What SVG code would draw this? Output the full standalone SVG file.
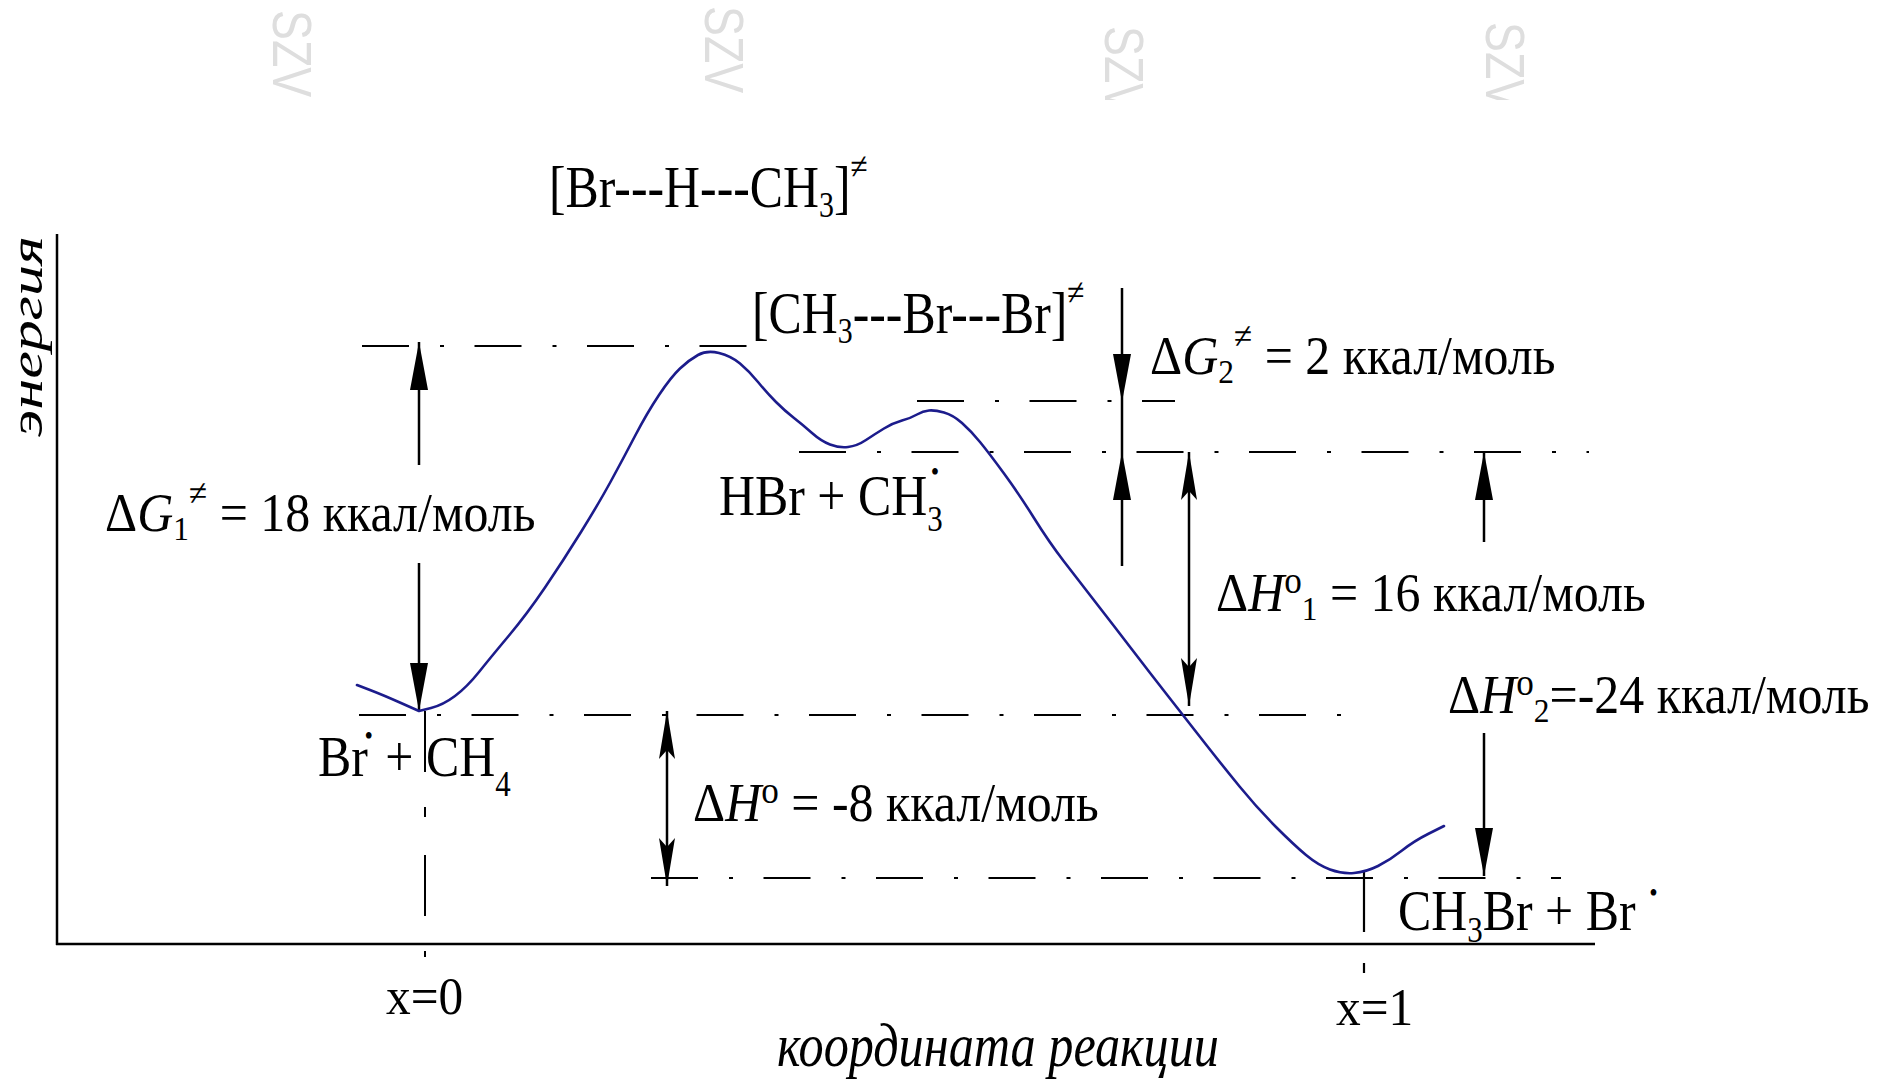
<svg xmlns="http://www.w3.org/2000/svg" width="1879" height="1083" viewBox="0 0 1879 1083">
<defs>
<style>
.t{font-family:"Liberation Serif","Times New Roman",serif;fill:#000}
.i{font-style:italic}
.dd{fill:none;stroke:#000;stroke-width:2;stroke-dasharray:47 31 4 30.5}
.ar{stroke:#000;stroke-width:2.5;fill:none}
.ax{stroke:#000;stroke-width:2.5;fill:none}
.curve{fill:none;stroke:#1c1c8c;stroke-width:2.6;stroke-linejoin:round;stroke-linecap:round}
.wm{font-family:"Liberation Sans",Arial,sans-serif;font-size:56px;fill:#dedede}
</style>
<marker id="ah" viewBox="0 0 48 18" refX="48" refY="9" markerWidth="48" markerHeight="18" markerUnits="userSpaceOnUse" orient="auto-start-reverse"><path d="M0,0 L48,9 L0,18 Z" fill="#000"/></marker>
<marker id="ahn" viewBox="0 0 48 18" refX="48" refY="9" markerWidth="48" markerHeight="18" markerUnits="userSpaceOnUse" orient="auto-start-reverse"><path d="M0,1 L48,9 L0,17 L9,9 Z" fill="#000"/></marker>
<clipPath id="wmclip"><rect x="0" y="0" width="1879" height="100"/></clipPath>
</defs>
<rect width="1879" height="1083" fill="#fff"/>

<g id="watermark" clip-path="url(#wmclip)">
<text class="wm" transform="translate(273,10) rotate(90) scale(0.8,1)">SZV</text>
<text class="wm" transform="translate(705,6) rotate(90) scale(0.8,1)">SZV</text>
<text class="wm" transform="translate(1105,26) rotate(90) scale(0.8,1)">SZV</text>
<text class="wm" transform="translate(1486,22) rotate(90) scale(0.8,1)">SZV</text>
</g>

<g id="axes">
<line class="ax" x1="57" y1="234" x2="57" y2="945"/>
<line class="ax" x1="56" y1="944" x2="1595" y2="944" stroke-width="3"/>
</g>

<g id="connectors">
<line class="dd" x1="362" y1="346" x2="748" y2="346"/>
<line class="dd" x1="917" y1="401" x2="1175" y2="401"/>
<line class="dd" x1="799" y1="452" x2="1589" y2="452"/>
<line class="dd" x1="359" y1="715" x2="1348" y2="715"/>
<line class="dd" x1="651" y1="878" x2="1561" y2="878"/>
<line x1="425" y1="711" x2="425" y2="957" stroke="#000" stroke-width="2" stroke-dasharray="61 35 10 38"/>
<line x1="1364" y1="872" x2="1364" y2="973" stroke="#000" stroke-width="2.2" stroke-dasharray="60 31 10"/>

<line class="ar" x1="419" y1="465" x2="419" y2="342" marker-end="url(#ah)"/>
<line class="ar" x1="419" y1="563" x2="419" y2="711" marker-end="url(#ah)"/>
<line class="ar" x1="1122" y1="288" x2="1122" y2="402" marker-end="url(#ah)"/>
<line class="ar" x1="1122" y1="402" x2="1122" y2="452"/>
<line class="ar" x1="1122" y1="566" x2="1122" y2="452" marker-end="url(#ah)"/>
<line class="ar" x1="1189" y1="452" x2="1189" y2="706" marker-start="url(#ahn)" marker-end="url(#ahn)"/>
<line class="ar" x1="1484" y1="542" x2="1484" y2="452" marker-end="url(#ah)"/>
<line class="ar" x1="1484" y1="733" x2="1484" y2="876" marker-end="url(#ah)"/>
<line class="ar" x1="667" y1="711" x2="667" y2="886" marker-start="url(#ahn)" marker-end="url(#ahn)"/>
</g>

<g id="curve">
<path class="curve" d="M357,685 L370,690 Q383,695 401,703 L419,711 L431,708 Q443,705 455,696 Q467,687 479,672 Q491,657 509,635.5 Q527,614 545,587.5 Q563,561 581,532 Q599,503 611,481 Q623,459 635,436 Q647,413 659,395 Q671,377 680,368.5 Q689,360 698,355 Q707,350 719,353 Q731,356 740,363.5 Q749,371 758,382 Q767,393 776,402 Q785,411 794,418 Q803,425 812,433 Q821,441 830,444.5 Q839,448 848,447 Q857,446 866,440 Q875,434 884,428.5 Q893,423 902,420.5 Q911,418 917,414.5 Q923,411 929,410.5 Q935,410 944,412.5 Q953,415 962,423 Q971,431 980,442 Q989,453 1004,473.5 Q1019,494 1034,518 Q1049,542 1064,561.5 Q1079,581 1096.5,603.5 Q1114,626 1132,649.5 Q1150,673 1168,696 Q1186,719 1204,742 Q1222,765 1240,787 Q1258,809 1276,827 Q1294,845 1306,855 Q1318,865 1330,869.5 Q1342,874 1354,873 Q1366,872 1378,866 Q1390,860 1402,850.5 Q1414,841 1429,833.5 L1444,826"/>
</g>

<g id="ts1">
<text class="t" font-size="60" transform="translate(549,207) scale(0.83,1)">[Br---H---CH<tspan font-size="36" dy="10">3</tspan><tspan dy="-10">]</tspan><tspan font-size="38" dy="-28">≠</tspan></text>
</g>
<g id="ts2">
<text class="t" font-size="60" transform="translate(752,333) scale(0.83,1)">[CH<tspan font-size="36" dy="10">3</tspan><tspan dy="-10">---Br---Br]</tspan><tspan font-size="38" dy="-28">≠</tspan></text>
</g>
<g id="intermediate">
<text class="t" font-size="58" transform="translate(719,515) scale(0.86,1)">HBr + CH<tspan font-size="36" dy="16">3</tspan><tspan font-size="28" dx="-14" dy="-50">•</tspan></text>
</g>
<g id="reactants">
<text class="t" font-size="58" transform="translate(318,776) scale(0.86,1)">Br<tspan font-size="28" dx="-4" dy="-31">•</tspan><tspan dy="31"> + CH</tspan><tspan font-size="36" dy="20">4</tspan></text>
</g>
<g id="products">
<text class="t" font-size="58" transform="translate(1398,930) scale(0.86,1)">CH<tspan font-size="36" dy="12">3</tspan><tspan dy="-12">Br + Br</tspan><tspan font-size="28" dx="16" dy="-28">•</tspan></text>
</g>

<g id="dG1">
<text class="t" font-size="54" transform="translate(105,531) scale(0.925,1)">Δ<tspan class="i">G</tspan><tspan font-size="34" dy="9">1</tspan><tspan font-size="36" dy="-35">≠</tspan><tspan dy="26"> = 18 ккал/моль</tspan></text>
</g>
<g id="dG2">
<text class="t" font-size="54" transform="translate(1150,374) scale(0.925,1)">Δ<tspan class="i">G</tspan><tspan font-size="34" dy="9">2</tspan><tspan font-size="36" dy="-35">≠</tspan><tspan dy="26"> = 2 ккал/моль</tspan></text>
</g>
<g id="dH1">
<text class="t" font-size="54" transform="translate(1216,611) scale(0.925,1)">Δ<tspan class="i">H</tspan><tspan font-size="38" dy="-18">o</tspan><tspan font-size="34" dy="27">1</tspan><tspan dy="-9"> = 16 ккал/моль</tspan></text>
</g>
<g id="dH2">
<text class="t" font-size="54" transform="translate(1448,713) scale(0.925,1)">Δ<tspan class="i">H</tspan><tspan font-size="38" dy="-18">o</tspan><tspan font-size="34" dy="27">2</tspan><tspan dy="-9">=-24 ккал/моль</tspan></text>
</g>
<g id="dH">
<text class="t" font-size="54" transform="translate(693,821) scale(0.925,1)">Δ<tspan class="i">H</tspan><tspan font-size="38" dy="-18">o</tspan><tspan dy="18"> = -8 ккал/моль</tspan></text>
</g>

<g id="x0">
<text class="t" font-size="52" transform="translate(386,1014) scale(0.95,1)">x=0</text>
</g>
<g id="x1">
<text class="t" font-size="52" transform="translate(1336,1025) scale(0.95,1)">x=1</text>
</g>
<g id="xlabel">
<text class="t i" font-size="62" transform="translate(777,1066) scale(0.81,1)">координата реакции</text>
</g>
<g id="ylabel">
<text class="t i" font-size="54" transform="translate(42,437) rotate(-90) scale(1.15,0.85)">энергия</text>
</g>
</svg>
